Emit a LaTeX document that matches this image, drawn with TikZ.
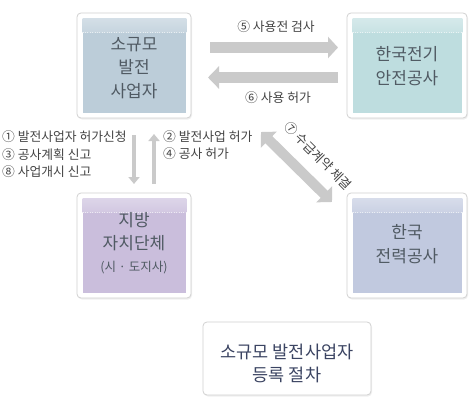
\documentclass[tikz,border=0pt]{standalone}
\usepackage{fontspec}
\setmainfont{Noto Sans CJK KR}
\usetikzlibrary{arrows.meta,shadows}
\definecolor{cA}{HTML}{BCCDD9}
\definecolor{cB}{HTML}{BEDDDF}
\definecolor{cC}{HTML}{CABEDC}
\definecolor{cD}{HTML}{C1C9DF}
\definecolor{txtc}{HTML}{505A63}
\definecolor{lblc}{HTML}{444444}
\definecolor{ttlc}{HTML}{3B4462}
\definecolor{arrc}{HTML}{CACACA}
\tikzset{
  frame/.style={draw=black!18, fill=white, rounded corners=4pt, line width=0.8pt, inner sep=0pt,
    drop shadow={shadow xshift=1pt, shadow yshift=-1.5pt, opacity=0.12}},
  boxtxt/.style={font=\fontsize{17}{23.5}\selectfont, text=txtc, align=center, inner sep=0pt},
  lbl/.style={font=\fontsize{12.8}{17.5}\selectfont, text=lblc, align=left, inner sep=0pt},
  fat/.style={draw=arrc, line width=11pt},
  thin/.style={draw=arrc, line width=4.5pt},
}
\begin{document}
\begin{tikzpicture}[x=1pt,y=-1pt]
\useasboundingbox (0,0) rectangle (474,404);
\fill[white] (0,0) rectangle (474,404);
% frames
\node[frame, minimum width=114pt, minimum height=105pt] (sgm) at (134,65.5) {};
\node[frame, minimum width=120pt, minimum height=105pt] (kea) at (407,65.5) {};
\node[frame, minimum width=114pt, minimum height=105pt] (lg) at (134,245.5) {};
\node[frame, minimum width=120pt, minimum height=105pt] (kepco) at (407,245.5) {};
\node[frame, minimum width=168pt, minimum height=73pt] (ttl) at (287,358.5) {};
% inner coloured panels
\foreach \n/\c in {sgm/cA, kea/cB, lg/cC, kepco/cD}{
  \fill[\c] ([shift={(6,6)}]\n.north west) rectangle ([shift={(-5,-5)}]\n.south east);
  \shade[top color=white!35!\c, bottom color=white!15!\c] ([shift={(6,6)}]\n.north west) rectangle ([shift={(-5,20)}]\n.north east);
  \draw[white, dotted, opacity=.6] ([shift={(6,20)}]\n.north west) -- ([shift={(-5,20)}]\n.north east);
}
% box texts
\node[boxtxt] (sgmt) at (134,68) {소규모\\발전\\사업자};
\node[boxtxt] (keat) at (407,66) {한국전기\\안전공사};
\node[boxtxt] (lgt) at (134,231.5) {지방\\자치단체};
\node[boxtxt, font=\fontsize{12.5}{14}\selectfont] (lgs) at (134,268) {(시 · 도지사)};
\node[boxtxt] (kepcot) at (407,244) {한국\\전력공사};
\node[boxtxt, font=\fontsize{17.5}{23}\selectfont, text=ttlc] (ttlt) at (287,363) {소규모 발전사업자\\등록 절차};
% arrows
\coordinate (a5s) at (210,47.5);
\coordinate (a5e) at (338,47.5);
\coordinate (a6s) at (338,77.5);
\coordinate (a6e) at (208,77.5);
\draw[fat, -{Triangle[width=21pt,length=10pt]}] (a5s) -- (a5e);
\draw[fat, -{Triangle[width=22pt,length=11pt]}] (a6s) -- (a6e);
\coordinate (dns) at (134,135);
\coordinate (dne) at (134,184);
\coordinate (ups) at (154,184);
\coordinate (upe) at (154,134);
\draw[thin, -{Triangle[width=11pt,length=7pt]}] (dns) -- (dne);
\draw[thin, -{Triangle[width=11pt,length=7pt]}] (ups) -- (upe);
\coordinate (d1) at (261,132);
\coordinate (d2) at (332,202);
\draw[draw=arrc, line width=10pt, {Triangle[width=22pt,length=11pt]}-{Triangle[width=22pt,length=11pt]}] (d1) -- (d2);
% labels
\node[lbl, anchor=center] (l5) at (276,27) {⑤ 사용전 검사};
\node[lbl, anchor=center] (l6) at (278,98) {⑥ 사용 허가};
\node[lbl, anchor=west] (lleft) at (2,154.5) {① 발전사업자 허가신청\\③ 공사계획 신고\\⑧ 사업개시 신고};
\node[lbl, anchor=west] (lright) at (163,145) {② 발전사업 허가\\④ 공사 허가};
\node[lbl, rotate=-45] (l7) at (318,156) {⑦ 수급계약 체결};
\end{tikzpicture}
\end{document}
